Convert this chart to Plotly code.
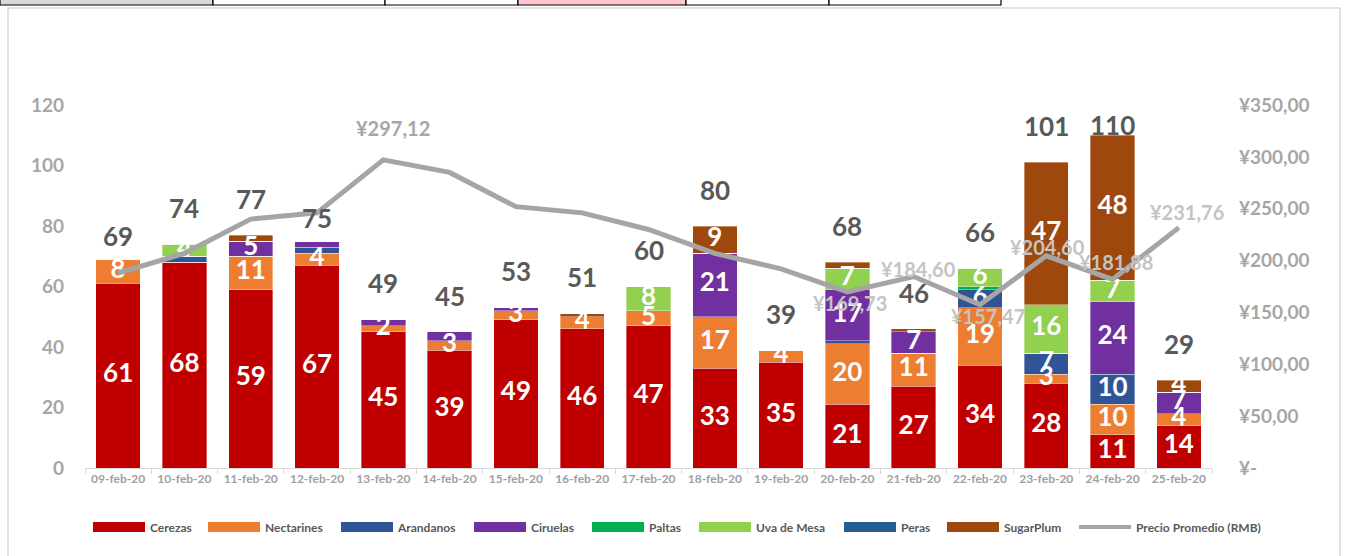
import plotly.graph_objects as go

# ---------------- data ----------------
dates = ["09-feb-20", "10-feb-20", "11-feb-20", "12-feb-20", "13-feb-20", "14-feb-20",
         "15-feb-20", "16-feb-20", "17-feb-20", "18-feb-20", "19-feb-20", "20-feb-20",
         "21-feb-20", "22-feb-20", "23-feb-20", "24-feb-20", "25-feb-20"]

cerezas    = [61, 68, 59, 67, 45, 39, 49, 46, 47, 33, 35, 21, 27, 34, 28, 11, 14]
nectarines = [8, 0, 11, 4, 2, 3, 3, 4, 5, 17, 4, 20, 11, 19, 3, 10, 4]
arandanos  = [0, 2, 0, 2, 0, 0, 0, 0, 0, 0, 0, 1, 0, 6, 7, 10, 0]
ciruelas   = [0, 0, 5, 2, 2, 3, 1, 0, 0, 21, 0, 17, 7, 0, 0, 24, 7]
paltas     = [0, 0, 0, 0, 0, 0, 0, 0, 0, 0, 0, 0, 0, 1, 0, 0, 0]
uva_mesa   = [0, 4, 0, 0, 0, 0, 0, 0, 8, 0, 0, 7, 0, 6, 16, 7, 0]
peras      = [0, 0, 0, 0, 0, 0, 0, 0, 0, 0, 0, 0, 0, 0, 0, 0, 0]
sugarplum  = [0, 0, 2, 0, 0, 0, 0, 1, 0, 9, 0, 2, 1, 0, 47, 48, 4]

precio = [188.0, 207.0, 240.0, 246.0, 297.12, 285.0, 252.0, 246.0, 230.0, 207.0,
          192.0, 169.73, 184.60, 157.47, 204.60, 181.88, 231.76]
# indices of the price points that carry a label
precio_labeled = [4, 11, 12, 13, 14, 15, 16]

left_ticks = [0, 20, 40, 60, 80, 100, 120]
right_ticks = [0, 50, 100, 150, 200, 250, 300, 350]

series = [
    ("Cerezas", cerezas, "#C00000", 4),
    ("Nectarines", nectarines, "#ED7D31", 1),
    ("Arandanos", arandanos, "#2F5597", 4),
    ("Ciruelas", ciruelas, "#7030A0", 4),
    ("Paltas", paltas, "#00B050", 4),
    ("Uva de Mesa", uva_mesa, "#92D050", 4),
    ("Peras", peras, "#255E91", 4),
    ("SugarPlum", sugarplum, "#9E480E", 4),
]
line_name = "Precio Promedio (RMB)"

FONT = "Lato"
W, H = 1347, 556
ML, MR, MT, MB = 85, 135, 105, 88
PW, PH = W - ML - MR, H - MT - MB
# left edge (px) of each legend swatch, in legend order
legend_px = [93, 208, 341, 474, 592, 699, 844, 947, 1079]
LEG_Y = 527
# small pixel nudges for total labels that sit lower in the original
total_nudge = {0: -13, 3: -13}


def px_x(px):
    return (px - ML) / PW


def px_y(py):
    return (H - MB - py) / PH


def yen(v):
    if v == 0:
        return "¥-"
    s = f"{v:,.2f}"
    return "¥" + s.replace(",", "X").replace(".", ",").replace("X", ".")


def legend_key(k):
    return "legend" if k == 0 else f"legend{k + 1}"


fig = go.Figure()

# stacked bars
for name, vals, color, _ in series:
    fig.add_trace(go.Bar(
        x=dates, y=vals, name=name,
        marker=dict(color=color, line=dict(width=0.6, color="rgba(255,255,255,0.6)")),
        showlegend=False, textposition="none", hoverinfo="skip", yaxis="y",
    ))

# segment labels (white, centered in each segment)
base = [0] * len(dates)
lx, ly, lt = [], [], []
for name, vals, color, thr in series:
    for i, v in enumerate(vals):
        if v >= thr and v > 0:
            lx.append(dates[i])
            ly.append(base[i] + v / 2)
            lt.append(str(v))
        base[i] += v
totals = base[:]

# price line
fig.add_trace(go.Scatter(
    x=dates, y=precio, name=line_name, mode="lines",
    line=dict(color="#A5A5A5", width=5), yaxis="y2", showlegend=False, hoverinfo="skip",
))

fig.add_trace(go.Scatter(
    x=lx, y=ly, text=lt, mode="text", yaxis="y", showlegend=False, hoverinfo="skip",
    textfont=dict(family=FONT, size=26, color="white", weight="bold"),
))

# legend proxies (wide colour swatches), one legend box per entry
legend_entries = [(s[0], s[2], 10) for s in series] + [(line_name, "#A5A5A5", 4)]
for k, (name, color, lw) in enumerate(legend_entries):
    fig.add_trace(go.Scatter(x=[dates[0]], y=[None], mode="lines", name=name,
                             line=dict(color=color, width=lw), hoverinfo="skip",
                             legend=legend_key(k)))

# total labels
for i, t in enumerate(totals):
    fig.add_annotation(x=dates[i], y=min(t + 12, 113.5), yref="y", text=str(t), showarrow=False,
                       yshift=total_nudge.get(i, 0),
                       font=dict(family=FONT, size=26, color="#595959", weight="bold"))

# price labels (pixel nudges relative to the point)
price_offsets = [(10, 32), (3, -11), (5, 8), (8, -11), (1, 9), (3, 17), (8, 16)]
for (dx, dy), i in zip(price_offsets, precio_labeled):
    col = "#A6A6A6" if i == 4 else "#C4C4C4"
    fig.add_annotation(x=dates[i], y=precio[i], yref="y2", text=yen(precio[i]), showarrow=False,
                       xshift=dx, yshift=dy,
                       font=dict(family=FONT, size=20, color=col, weight="bold"))

# frame and spreadsheet strip
shapes = [dict(type="rect", xref="paper", yref="paper", x0=px_x(8), x1=px_x(1340), y0=px_y(600), y1=px_y(8),
               line=dict(color="#D9D9D9", width=1.5), fillcolor="rgba(0,0,0,0)", layer="below")]
cells = [(0, 213, "#D9D9D9"), (213, 385, "white"), (385, 518, "white"), (518, 686, "#FFC7CE"),
         (686, 829, "white"), (829, 1001, "white")]
for a, b, c in cells:
    shapes.append(dict(type="rect", xref="paper", yref="paper", x0=px_x(a), x1=px_x(b), y0=px_y(5), y1=px_y(-5),
                       line=dict(color="black", width=1.2), fillcolor=c))
fig.update_layout(shapes=shapes)

legend_layouts = {}
for k, px in enumerate(legend_px):
    legend_layouts[legend_key(k)] = dict(
        orientation="h", xref="container", yref="container", x=(px - 5) / W, y=1 - LEG_Y / H,
        xanchor="left", yanchor="middle",
        font=dict(family=FONT, size=12, color="#595959", weight="bold"),
        itemwidth=52, bgcolor="rgba(0,0,0,0)", borderwidth=0)

fig.update_layout(
    width=W, height=H, autosize=False,
    margin=dict(l=ML, r=MR, t=MT, b=MB, autoexpand=False),
    paper_bgcolor="white", plot_bgcolor="white",
    barmode="stack", bargap=0.33,
    font=dict(family=FONT),
    xaxis=dict(type="category", categoryorder="array", categoryarray=dates,
               range=[-0.5, len(dates) - 0.5],
               showgrid=False, showline=True, linecolor="#D9D9D9", linewidth=1,
               ticks="outside", tickson="boundaries", ticklen=5, tickcolor="#D9D9D9",
               tickfont=dict(family=FONT, size=12, color="#A0A0A0", weight="bold"), fixedrange=True),
    yaxis=dict(range=[0, 120], tickvals=left_ticks, showgrid=False, zeroline=False, showline=False,
               ticklabelstandoff=20,
               tickfont=dict(family=FONT, size=19, color="#A6A6A6", weight="bold")),
    yaxis2=dict(range=[0, 350], overlaying="y", side="right", tickvals=right_ticks,
                ticktext=[yen(v) for v in right_ticks], showgrid=False, zeroline=False, showline=False,
                ticklabelstandoff=26,
                tickfont=dict(family=FONT, size=19, color="#A6A6A6", weight="bold")),
    showlegend=True,
    **legend_layouts,
)

fig.write_html("out.html", config={"displayModeBar": False},
               post_script="document.body.style.margin='0';document.body.style.overflow='hidden';")
